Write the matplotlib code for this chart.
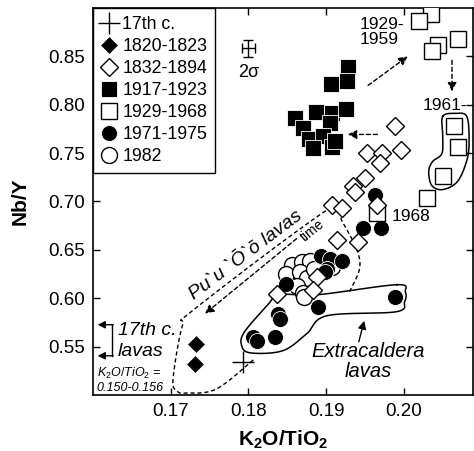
import numpy as np
import matplotlib
matplotlib.use("Agg")
import matplotlib.pyplot as plt

plt.rcParams['font.family'] = ['Liberation Sans', 'DejaVu Sans']
plt.rcParams['mathtext.fontset'] = 'custom'
plt.rcParams['mathtext.rm'] = 'Liberation Sans'
plt.rcParams['mathtext.it'] = 'Liberation Sans:italic'
plt.rcParams['mathtext.bf'] = 'Liberation Sans:bold'

# --- data (K2O/TiO2, Nb/Y) ---
c17_x = [0.1793]
c17_y = [0.5345]

d1820_x = [0.1733, 0.1731]
d1820_y = [0.553, 0.532]

d1832_x = [0.1988, 0.1952, 0.1972, 0.1996, 0.1969, 0.1950, 0.1934, 0.1937,
           0.1907, 0.1920, 0.1965, 0.1914, 0.1941, 0.1888, 0.1883, 0.1837]
d1832_y = [0.7776, 0.7497, 0.7497, 0.7528, 0.7393, 0.7238, 0.7155, 0.7103,
           0.6959, 0.6928, 0.6959, 0.6597, 0.6586, 0.6224, 0.6090, 0.6048]

d1917_x = [0.1928, 0.1906, 0.1927, 0.1860, 0.1887, 0.1907, 0.1925, 0.1905,
           0.1870, 0.1878, 0.1896, 0.1907, 0.1911, 0.1883]
d1917_y = [0.8386, 0.8210, 0.8241, 0.7859, 0.7921, 0.7910, 0.7952, 0.7807,
           0.7755, 0.7641, 0.7672, 0.7559, 0.7621, 0.7548]

d1929_x = [0.2035, 0.2019, 0.2070, 0.2044, 0.2036, 0.2064, 0.2070, 0.2050,
           0.2030, 0.1965]
d1929_y = [0.8934, 0.8862, 0.8676, 0.8614, 0.8552, 0.7776, 0.7559, 0.7259,
           0.7041, 0.6876]

d1971_x = [0.1963, 0.1947, 0.1970, 0.1894, 0.1905, 0.1921, 0.1901, 0.1849,
           0.1889, 0.1838, 0.1840, 0.1806, 0.1811, 0.1834, 0.1988, 0.1898]
d1971_y = [0.7062, 0.6721, 0.6731, 0.6441, 0.6410, 0.6390, 0.6307, 0.6152,
           0.5914, 0.5841, 0.5790, 0.5603, 0.5562, 0.5603, 0.6017, 0.6276]

d1982_x = [0.1856, 0.1869, 0.1879, 0.1849, 0.1866, 0.1875, 0.1862, 0.1870,
           0.1872, 0.1907, 0.1885]
d1982_y = [0.6348, 0.6379, 0.6390, 0.6255, 0.6266, 0.6204, 0.6131, 0.6059,
           0.6017, 0.6328, 0.6307]

# outlines drawn on the plot (data coords)
extra_loop = [(0.1991, 0.6140), (0.2002, 0.6067), (0.2001, 0.5964), (0.1990, 0.5860),
              (0.1901, 0.5819), (0.1875, 0.5633), (0.1844, 0.5457), (0.1802, 0.5436),
              (0.1791, 0.5519), (0.1795, 0.5653), (0.1824, 0.5922), (0.1840, 0.6036),
              (0.1889, 0.6036)]
loop1961 = [(0.2050, 0.7879), (0.2066, 0.7910), (0.2081, 0.7879), (0.2084, 0.7620),
            (0.2081, 0.7423), (0.2069, 0.7206), (0.2050, 0.7123), (0.2036, 0.7165),
            (0.2032, 0.7310), (0.2037, 0.7413), (0.2049, 0.7496), (0.2050, 0.7682)]
puu_line = [(0.1930, 0.6067), (0.1943, 0.6305), (0.1939, 0.6512), (0.1920, 0.6802),
            (0.1908, 0.6947), (0.1731, 0.5891), (0.1715, 0.5715), (0.1703, 0.5167),
            (0.1708, 0.5042), (0.1720, 0.5020), (0.1759, 0.5063), (0.1808, 0.5374)]


def spline(pts, closed=True, n=16):
    p = np.array(pts)
    if not closed:
        p = np.vstack([p[0], p, p[-1]])
    N = len(p)
    rng = range(N) if closed else range(1, N - 2)
    out = []
    t = np.linspace(0, 1, n, endpoint=False)[:, None]
    for i in rng:
        p0, p1, p2, p3 = p[i - 1], p[i], p[(i + 1) % N], p[(i + 2) % N]
        out.append(0.5 * (2 * p1 + (-p0 + p2) * t + (2 * p0 - 5 * p1 + 4 * p2 - p3) * t ** 2
                          + (-p0 + 3 * p1 - 3 * p2 + p3) * t ** 3))
    out = np.vstack(out)
    if closed:
        out = np.vstack([out, out[0]])
    else:
        out = np.vstack([out, p[-2]])
    return out


fig = plt.figure(figsize=(4.74, 4.51), dpi=100)
ax = fig.add_axes([0.1962, 0.1242, 0.8017, 0.8581])

ax.plot(c17_x, c17_y, '+', color='k', ms=16, mew=1.0, ls='none', zorder=5, label='17th c.')
ax.plot(d1820_x, d1820_y, 'D', mfc='k', mec='white', ms=9.5, mew=0.6, ls='none', zorder=5, label='1820-1823')
ax.plot(d1832_x, d1832_y, 'D', mfc='white', mec='k', ms=9.5, mew=1.0, ls='none', zorder=6, label='1832-1894')
ax.plot(d1917_x, d1917_y, 's', mfc='k', mec='white', ms=11.5, mew=0.6, ls='none', zorder=5, label='1917-1923')
ax.plot(d1929_x, d1929_y, 's', mfc='white', mec='k', ms=11, mew=1.0, ls='none', zorder=5, label='1929-1968')
ax.plot(d1971_x, d1971_y, 'o', mfc='k', mec='white', ms=11.5, mew=0.6, ls='none', zorder=4, label='1971-1975')
ax.plot(d1982_x, d1982_y, 'o', mfc='white', mec='k', ms=11.5, mew=1.0, ls='none', zorder=3, label='1982')

# outlines
e = spline(extra_loop)
ax.plot(e[:, 0], e[:, 1], color='k', lw=1.1, zorder=2)
l = spline(loop1961)
ax.plot(l[:, 0], l[:, 1], color='k', lw=1.1, zorder=2)
pl = spline(puu_line, closed=False)
ax.plot(pl[:, 0], pl[:, 1], color='k', lw=1.0, ls=(0, (3, 2)), zorder=2)

arr = dict(arrowstyle='-|>', color='k', lw=1.0, linestyle=(0, (3, 2)), mutation_scale=13,
           shrinkA=0, shrinkB=0)
ax.annotate('', xy=(0.2005, 0.8500), xytext=(0.1954, 0.8200), arrowprops=arr)
ax.annotate('', xy=(0.2062, 0.8138), xytext=(0.2062, 0.8459), arrowprops=arr)
ax.annotate('', xy=(0.1928, 0.7693), xytext=(0.1966, 0.7693), arrowprops=arr)
ax.annotate('', xy=(0.1744, 0.5840), xytext=(0.1862, 0.6616), arrowprops=arr)
ax.text(0.1883, 0.6699, 'time', rotation=39, fontsize=10, ha='center', va='center')
ax.text(0.1797, 0.6440, 'Pu`u `Ō`ō lavas', rotation=37, fontsize=14, style='italic',
        ha='center', va='center')

# extracaldera
ax.annotate('', xy=(0.1949, 0.5767), xytext=(0.1942, 0.5550),
            arrowprops=dict(arrowstyle='-|>', color='k', lw=1.0, mutation_scale=12,
                            shrinkA=0, shrinkB=0))
ax.text(0.1954, 0.5345, 'Extracaldera\nlavas', style='italic', fontsize=14.5,
        ha='center', va='center', linespacing=1.05)

# labels of groups
ax.text(0.2001, 0.8748, '1929-\n1959', fontsize=12.5, ha='right', va='center',
        multialignment='left', linespacing=1.0)
ax.text(0.2082, 0.7993, '1961-', fontsize=12.5, ha='right', va='center')
ax.text(0.1984, 0.6844, '1968', fontsize=12.5, ha='left', va='center')

# 2 sigma
ax.errorbar([0.1800], [0.8585], xerr=0.00085, yerr=0.0088, fmt='none', ecolor='k',
            elinewidth=1.0, capsize=3.5, capthick=1.0)
ax.text(0.1800, 0.8330, '2σ', fontsize=13, ha='center', va='center')

# 17th c. lavas bracket
ax.plot([0.1625, 0.1625], [0.5726, 0.5405], color='k', lw=1.0)
ax.annotate('', xy=(0.1606, 0.5726), xytext=(0.1626, 0.5726),
            arrowprops=dict(arrowstyle='-|>', color='k', lw=1.0, mutation_scale=11,
                            shrinkA=0, shrinkB=0))
ax.annotate('', xy=(0.1606, 0.5405), xytext=(0.1626, 0.5405),
            arrowprops=dict(arrowstyle='-|>', color='k', lw=1.0, mutation_scale=11,
                            shrinkA=0, shrinkB=0))
ax.text(0.1632, 0.5664, '17th c.', style='italic', fontsize=14, ha='left', va='center')
ax.text(0.1632, 0.5446, 'lavas', style='italic', fontsize=14, ha='left', va='center')
ax.text(0.1605, 0.5160, '$K_2O/TiO_2$ =\n0.150-0.156', style='italic', fontsize=9,
        ha='left', va='center', linespacing=1.1)

ax.set_xlim(0.16, 0.2089)
ax.set_ylim(0.50, 0.90)
ax.set_xticks([0.17, 0.18, 0.19, 0.20])
ax.set_yticks([0.55, 0.60, 0.65, 0.70, 0.75, 0.80, 0.85])
ax.xaxis.set_major_formatter(matplotlib.ticker.FormatStrFormatter('%.2f'))
ax.yaxis.set_major_formatter(matplotlib.ticker.FormatStrFormatter('%.2f'))
ax.tick_params(direction='in', length=5, width=1.0, top=True, right=True,
               labelsize=13.5, pad=6)
for s in ax.spines.values():
    s.set_linewidth(1.2)

ax.set_xlabel(r'$\mathbf{K_2O/TiO_2}$', fontsize=15, labelpad=6)
ax.set_ylabel('Nb/Y', fontsize=15, fontweight='bold', labelpad=13)

leg = ax.legend(loc='upper left', bbox_to_anchor=(0, 1), borderaxespad=0, numpoints=1,
                fancybox=False, edgecolor='k', framealpha=1, fontsize=12.8,
                handlelength=0.9, handletextpad=0.3, labelspacing=0.28, borderpad=0.45)
leg.get_frame().set_linewidth(1.0)
leg.set_zorder(10)

fig.savefig('out.png', dpi=100)
